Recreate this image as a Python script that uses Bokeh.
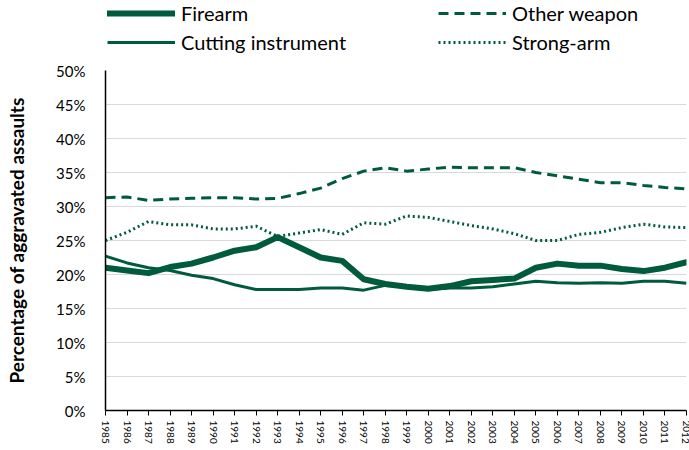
from bokeh.plotting import figure
from bokeh.layouts import column
from bokeh.models import Range1d, FixedTicker, PrintfTickFormatter, Legend, LegendItem
from bokeh.embed import file_html
from bokeh.resources import INLINE

years = list(range(1985, 2013))
firearm = [21.0, 20.6, 20.2, 21.1, 21.6, 22.5, 23.5, 24.0, 25.5, 24.0, 22.5, 22.0, 19.3, 18.6,
           18.2, 17.9, 18.3, 19.0, 19.2, 19.4, 21.0, 21.6, 21.3, 21.3, 20.8, 20.5, 21.0, 21.8]
cutting = [22.7, 21.7, 21.0, 20.6, 19.9, 19.4, 18.5, 17.8, 17.8, 17.8, 18.0, 18.0, 17.7, 18.4,
           18.2, 17.8, 18.0, 18.0, 18.2, 18.6, 19.0, 18.8, 18.7, 18.8, 18.7, 19.0, 19.0, 18.7]
other = [31.3, 31.4, 30.9, 31.1, 31.2, 31.3, 31.3, 31.1, 31.2, 31.9, 32.7, 34.1, 35.2, 35.7,
         35.2, 35.5, 35.8, 35.7, 35.7, 35.7, 35.0, 34.5, 34.0, 33.5, 33.5, 33.1, 32.8, 32.6]
strongarm = [25.0, 26.2, 27.8, 27.3, 27.3, 26.7, 26.7, 27.1, 25.6, 26.1, 26.6, 25.9, 27.6, 27.4,
             28.6, 28.4, 27.8, 27.2, 26.7, 26.0, 25.0, 25.0, 25.9, 26.2, 26.9, 27.4, 27.0, 26.9]
series_names = ["Firearm", "Other weapon", "Cutting instrument", "Strong-arm"]
y_ticks = list(range(0, 55, 5))

GREEN = "#005a3c"
FONT = "Lato"

styles = {
    "Firearm": dict(line_width=6, line_dash="solid", line_cap="round"),
    "Cutting instrument": dict(line_width=3, line_dash="solid"),
    "Other weapon": dict(line_width=3, line_dash="10 6"),
    "Strong-arm": dict(line_width=3, line_dash="2 3"),
}
data = {"Firearm": firearm, "Cutting instrument": cutting,
        "Other weapon": other, "Strong-arm": strongarm}

# ---- main chart ----
p = figure(width=689, height=392, output_backend="svg", toolbar_location=None,
           x_range=Range1d(1985, 2012), y_range=Range1d(0, 50),
           min_border_left=105, min_border_right=3, min_border_top=14, min_border_bottom=38)
p.outline_line_color = None

for name in ["Strong-arm", "Other weapon", "Cutting instrument", "Firearm"]:
    p.line(years, data[name], line_color=GREEN, line_join="round", **styles[name])

p.xgrid.visible = False
p.ygrid.grid_line_color = "#d9d9d9"
p.ygrid.grid_line_width = 1

p.xaxis.ticker = FixedTicker(ticks=years)
p.xaxis.major_label_orientation = -1.5708
p.xaxis.major_label_text_font = FONT
p.xaxis.major_label_text_font_size = "10px"
p.xaxis.major_label_text_color = "black"
p.xaxis.minor_tick_line_color = None
p.xaxis.major_tick_in = 0
p.xaxis.major_tick_out = 5
p.xaxis.major_tick_line_color = "black"
p.xaxis.axis_line_color = "black"
p.xaxis.axis_line_width = 1.5

p.yaxis.ticker = FixedTicker(ticks=y_ticks)
p.yaxis.formatter = PrintfTickFormatter(format="%d%%")
p.yaxis.major_label_text_font = FONT
p.yaxis.major_label_text_font_size = "15px"
p.yaxis.major_label_text_color = "black"
p.yaxis.minor_tick_line_color = None
p.yaxis.major_tick_line_color = None
p.yaxis.major_label_standoff = 14
p.yaxis.axis_line_color = "black"
p.yaxis.axis_line_width = 1.5
p.yaxis.axis_label = "Percentage of aggravated assaults"
p.yaxis.axis_label_text_font = FONT
p.yaxis.axis_label_text_font_style = "bold"
p.yaxis.axis_label_text_font_size = "19px"
p.yaxis.axis_label_text_color = "black"
p.yaxis.axis_label_standoff = 25

# ---- legend strip (its own figure; the sample lines use the series but lie outside its view) ----
lg = figure(width=689, height=56, output_backend="svg", toolbar_location=None,
            x_range=Range1d(0, 1), y_range=Range1d(0, 1),
            min_border=0, min_border_left=105, min_border_right=3,
            min_border_top=0, min_border_bottom=0)
lg.axis.visible = False
lg.grid.visible = False
lg.outline_line_color = None

items = []
for name in series_names:
    r = lg.line(years, data[name], line_color=GREEN, **styles[name])
    items.append(LegendItem(label=name, renderers=[r]))

legend = Legend(items=items, orientation="horizontal", nrows=2, location=(2, 2),
                glyph_width=68, glyph_height=22, label_standoff=6, label_width=252, spacing=5,
                label_text_font=FONT, label_text_font_size="20px", label_text_color="black",
                border_line_color=None, background_fill_alpha=0, padding=0, margin=0)
lg.add_layout(legend, "center")

layout = column(lg, p, spacing=0)
open("out.html", "w").write(file_html(layout, INLINE))
